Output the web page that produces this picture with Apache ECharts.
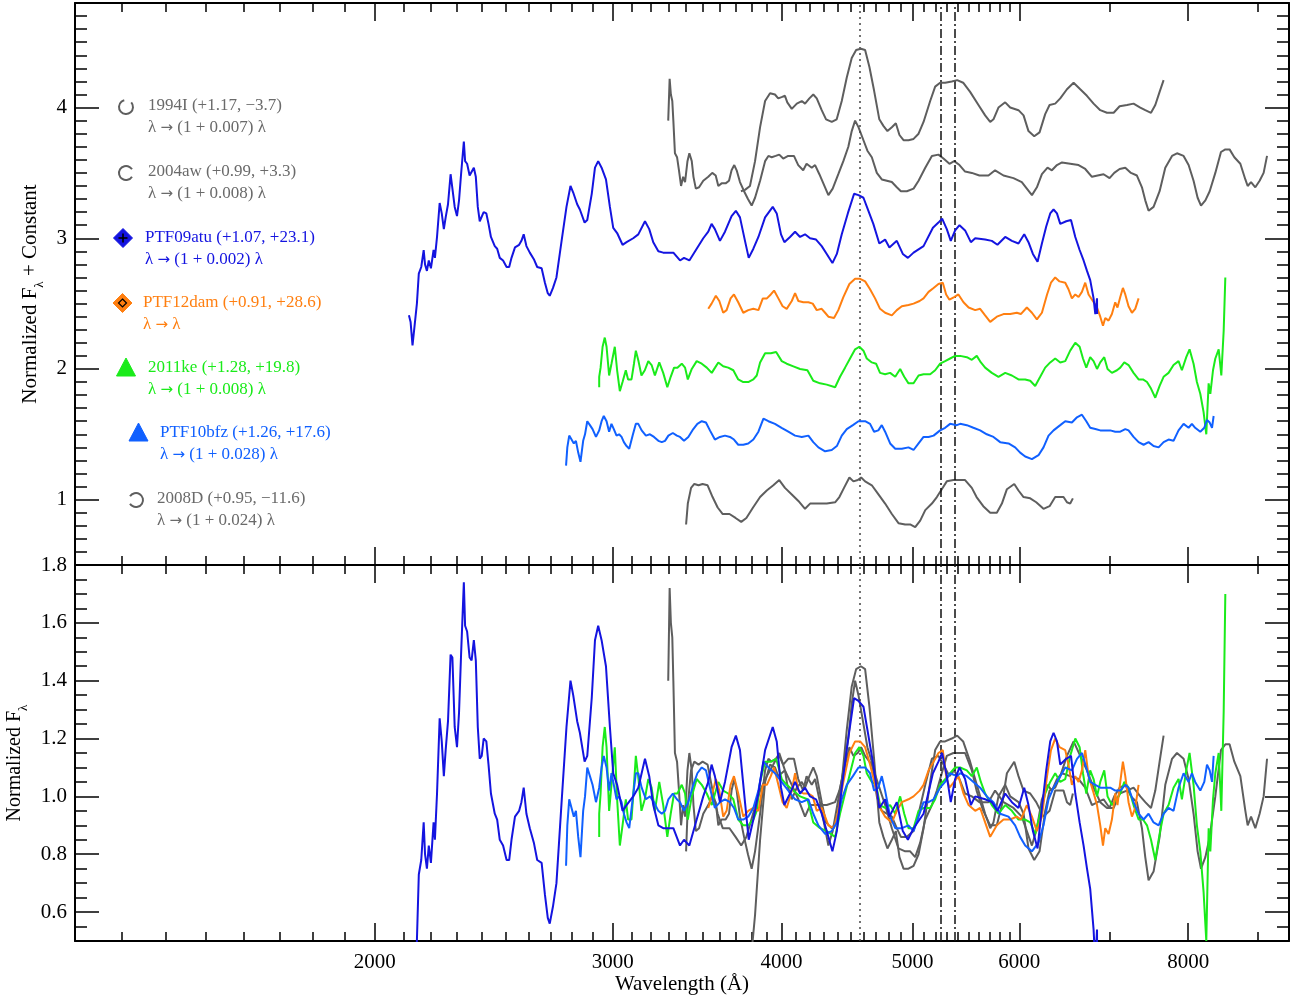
<!DOCTYPE html>
<html><head><meta charset="utf-8">
<script src="https://cdn.jsdelivr.net/npm/echarts@6.0.0/dist/echarts.min.js"></script>
<style>html,body{margin:0;padding:0;background:#fff}#c{width:1297px;height:999px}</style>
</head><body><div id="c"></div>
<script>
// ---------- DATA: [wavelength (Å), normalized flux] ----------
const sn1994I = [[3733,0.36],[3759,0.37],[3791,0.40],[3824,0.59],[3857,0.85],[3890,1.05],[3923,1.11],[3956,1.10],[3978,1.07],[4001,1.08],[4024,1.09],[4040,1.04],[4071,0.99],[4106,1.03],[4141,1.05],[4164,1.03],[4195,1.07],[4223,1.10],[4248,1.07],[4284,0.98],[4316,0.91],[4358,0.89],[4395,0.91],[4433,1.05],[4471,1.23],[4509,1.38],[4543,1.44],[4580,1.45],[4613,1.44],[4647,1.31],[4684,1.13],[4726,0.91],[4759,0.86],[4792,0.82],[4828,0.85],[4861,0.88],[4891,0.79],[4925,0.75],[4967,0.75],[5010,0.76],[5053,0.80],[5096,0.89],[5154,1.05],[5198,1.16],[5242,1.19],[5287,1.19],[5347,1.20],[5397,1.21],[5452,1.19],[5517,1.12],[5596,1.02],[5660,0.94],[5709,0.89],[5741,0.91],[5790,1.00],[5857,1.04],[5907,1.00],[5991,0.98],[6043,0.94],[6094,0.82],[6154,0.78],[6210,0.81],[6270,0.95],[6317,1.02],[6378,1.03],[6433,1.07],[6507,1.14],[6581,1.19],[6656,1.14],[6732,1.09],[6809,1.03],[6887,0.98],[6966,0.96],[7046,0.96],[7118,1.01],[7208,1.02],[7289,1.03],[7373,1.00],[7436,0.98],[7509,0.96],[7564,1.02],[7620,1.12],[7672,1.21]];
const sn2004aw = [[3298,1.40],[3306,1.72],[3313,1.60],[3321,1.55],[3327,1.40],[3336,1.15],[3348,1.12],[3359,1.02],[3371,0.90],[3383,0.97],[3394,0.93],[3408,1.09],[3419,1.15],[3433,1.09],[3443,0.97],[3457,0.88],[3476,0.89],[3501,0.94],[3531,0.97],[3555,1.00],[3576,0.98],[3592,0.90],[3612,0.92],[3637,0.92],[3658,0.94],[3674,1.02],[3691,1.06],[3706,1.02],[3727,0.93],[3753,0.86],[3778,0.80],[3802,0.75],[3824,0.81],[3857,0.94],[3890,1.09],[3912,1.13],[3934,1.12],[3961,1.13],[3985,1.14],[4012,1.11],[4046,1.13],[4086,1.13],[4116,1.06],[4151,1.02],[4175,1.07],[4212,1.04],[4236,1.06],[4267,0.99],[4296,0.92],[4333,0.83],[4365,0.88],[4407,0.99],[4445,1.09],[4483,1.20],[4509,1.32],[4535,1.40],[4561,1.35],[4600,1.25],[4631,1.17],[4666,1.12],[4706,1.00],[4746,0.95],[4787,0.94],[4828,0.93],[4869,0.89],[4903,0.86],[4953,0.86],[5010,0.88],[5053,0.94],[5111,1.04],[5169,1.13],[5227,1.14],[5272,1.11],[5326,1.07],[5369,1.09],[5418,1.06],[5470,1.01],[5533,1.00],[5605,0.98],[5692,0.98],[5757,1.02],[5840,0.98],[5940,0.96],[6025,0.93],[6077,0.88],[6130,0.83],[6182,0.89],[6235,0.99],[6295,1.04],[6342,1.02],[6397,1.06],[6452,1.08],[6543,1.07],[6637,1.06],[6713,1.03],[6790,0.97],[6856,0.98],[6926,0.99],[6997,0.96],[7053,1.00],[7118,1.03],[7187,1.04],[7257,1.00],[7331,0.98],[7394,0.89],[7436,0.79],[7478,0.71],[7542,0.74],[7620,0.86],[7694,1.04],[7783,1.13],[7849,1.15],[7938,1.13],[8006,1.06],[8074,0.94],[8130,0.81],[8177,0.75],[8238,0.79],[8299,0.86],[8379,1.00],[8460,1.16],[8523,1.18],[8585,1.18],[8655,1.12],[8744,1.07],[8819,0.95],[8854,0.90],[8905,0.93],[8970,0.89],[9036,0.94],[9098,1.00],[9151,1.13]];
const ptf09atu = [[2120,0.41],[2126,0.36],[2133,0.18],[2138,0.28],[2142,0.27],[2149,0.50],[2156,0.73],[2165,0.78],[2174,0.91],[2179,0.80],[2186,0.75],[2193,0.83],[2201,0.77],[2211,0.91],[2216,0.85],[2224,1.01],[2234,1.27],[2242,1.19],[2250,1.07],[2257,1.16],[2266,1.26],[2276,1.49],[2283,1.48],[2292,1.24],[2301,1.17],[2309,1.29],[2317,1.49],[2328,1.74],[2333,1.59],[2341,1.57],[2351,1.48],[2359,1.47],[2368,1.54],[2376,1.47],[2384,1.24],[2392,1.13],[2400,1.14],[2408,1.20],[2419,1.19],[2428,1.11],[2438,1.01],[2454,0.94],[2464,0.92],[2475,0.85],[2489,0.83],[2504,0.78],[2515,0.78],[2525,0.85],[2540,0.93],[2558,0.95],[2568,0.98],[2578,1.03],[2590,0.94],[2605,0.89],[2623,0.84],[2638,0.78],[2658,0.77],[2673,0.66],[2686,0.58],[2695,0.56],[2710,0.62],[2726,0.70],[2750,0.98],[2773,1.24],[2792,1.40],[2805,1.35],[2824,1.26],[2837,1.22],[2860,1.12],[2873,1.14],[2895,1.34],[2911,1.54],[2927,1.59],[2944,1.54],[2966,1.45],[2986,1.24],[3003,1.08],[3023,1.04],[3051,0.95],[3072,0.97],[3107,1.00],[3134,1.03],[3170,1.13],[3193,1.07],[3215,0.97],[3243,0.90],[3270,0.89],[3327,0.89],[3365,0.83],[3388,0.85],[3419,0.83],[3462,0.92],[3501,1.00],[3531,1.05],[3551,1.11],[3571,1.07],[3602,0.98],[3633,1.05],[3674,1.17],[3701,1.21],[3727,1.16],[3759,0.98],[3783,0.85],[3813,0.92],[3846,1.01],[3890,1.16],[3941,1.24],[3968,1.19],[3997,1.03],[4020,0.97],[4059,1.01],[4094,1.05],[4129,1.01],[4164,1.03],[4200,1.00],[4243,0.99],[4284,0.94],[4321,0.88],[4363,0.81],[4396,0.88],[4433,1.03],[4479,1.19],[4527,1.34],[4561,1.33],[4600,1.31],[4639,1.21],[4678,1.11],[4726,0.96],[4773,0.99],[4808,0.93],[4869,0.98],[4919,0.88],[4962,0.85],[5010,0.89],[5096,0.94],[5178,1.08],[5227,1.12],[5260,1.15],[5302,1.07],[5338,0.98],[5378,1.06],[5418,1.10],[5470,1.06],[5524,0.97],[5565,1.00],[5660,0.99],[5725,0.98],[5780,0.95],[5857,1.01],[5924,0.98],[5991,0.96],[6050,1.03],[6094,0.97],[6140,0.88],[6189,0.82],[6235,0.96],[6281,1.09],[6324,1.19],[6360,1.22],[6397,1.19],[6433,1.11],[6499,1.13],[6552,1.14],[6600,1.01],[6649,0.91],[6694,0.83],[6733,0.75],[6770,0.68],[6809,0.54],[6829,0.42],[6849,0.54],[6850,0.42]];
const ptf12dam = [[3531,0.96],[3551,1.00],[3577,1.06],[3598,1.02],[3622,0.93],[3643,0.95],[3668,1.04],[3689,1.07],[3716,1.01],[3748,0.93],[3780,0.95],[3813,0.96],[3846,0.95],[3875,1.04],[3902,1.04],[3928,1.07],[3950,1.10],[3979,1.04],[4008,0.98],[4036,0.96],[4071,1.02],[4094,1.08],[4117,1.02],[4152,1.01],[4188,1.01],[4219,1.00],[4248,0.95],[4284,0.96],[4309,0.93],[4333,0.90],[4375,0.89],[4407,0.95],[4445,1.05],[4491,1.15],[4535,1.19],[4574,1.19],[4613,1.17],[4652,1.11],[4692,1.04],[4732,0.96],[4773,0.93],[4828,0.91],[4869,0.95],[4911,0.98],[4967,0.99],[5010,1.00],[5062,1.02],[5096,1.04],[5140,1.09],[5184,1.12],[5227,1.15],[5266,1.16],[5296,1.07],[5326,1.03],[5369,1.05],[5408,1.07],[5455,1.01],[5503,0.97],[5565,0.95],[5612,0.96],[5660,0.91],[5709,0.86],[5774,0.90],[5840,0.92],[5907,0.92],[5974,0.93],[6015,0.92],[6077,0.97],[6130,0.93],[6182,0.88],[6235,0.93],[6290,1.07],[6332,1.16],[6378,1.20],[6425,1.17],[6488,1.16],[6524,1.11],[6562,1.04],[6600,1.07],[6637,1.05],[6675,1.09],[6713,1.16],[6751,1.07],[6801,1.02],[6849,0.97],[6887,0.90],[6919,0.83],[6946,0.89],[6985,0.87],[7025,0.92],[7065,1.01],[7092,0.97],[7126,1.05],[7158,1.12],[7187,1.07],[7227,0.98],[7269,0.93],[7310,0.96],[7352,1.04]];
const sn2011ke = [[2932,0.86],[2932,0.94],[2939,1.01],[2949,1.17],[2960,1.24],[2969,1.17],[2982,0.95],[2994,1.04],[3011,1.17],[3023,0.99],[3037,0.83],[3051,0.90],[3068,0.99],[3080,0.92],[3098,0.92],[3111,1.04],[3121,1.14],[3135,1.06],[3151,0.95],[3169,0.99],[3188,1.06],[3206,1.03],[3224,0.95],[3248,1.05],[3270,0.97],[3293,0.86],[3312,0.94],[3331,1.01],[3350,1.01],[3375,1.04],[3394,1.01],[3410,0.92],[3433,1.00],[3462,1.06],[3492,1.04],[3522,1.01],[3552,0.97],[3572,1.01],[3592,1.05],[3622,1.02],[3653,1.01],[3685,0.99],[3716,0.92],[3748,0.90],[3780,0.90],[3813,0.92],[3835,0.95],[3857,1.05],[3890,1.12],[3928,1.12],[3964,1.13],[4002,1.06],[4036,1.04],[4082,1.02],[4129,1.00],[4181,0.99],[4223,0.91],[4272,0.89],[4321,0.88],[4383,0.86],[4420,0.94],[4458,1.01],[4496,1.08],[4535,1.15],[4568,1.17],[4600,1.14],[4626,1.08],[4666,1.05],[4700,1.04],[4732,0.97],[4773,0.96],[4814,0.97],[4856,0.94],[4897,1.00],[4931,0.94],[4967,0.89],[5010,0.89],[5053,0.95],[5096,0.96],[5154,0.96],[5198,0.99],[5242,1.04],[5287,1.06],[5332,1.08],[5378,1.10],[5424,1.10],[5486,1.09],[5533,1.07],[5580,1.10],[5619,1.05],[5660,1.01],[5725,0.97],[5790,0.94],[5857,0.97],[5924,0.95],[5991,0.92],[6060,0.92],[6112,0.91],[6164,0.87],[6217,0.94],[6270,1.01],[6324,1.05],[6378,1.08],[6433,1.05],[6488,1.06],[6543,1.14],[6600,1.20],[6649,1.17],[6687,1.08],[6725,1.01],[6770,1.09],[6809,1.06],[6849,1.00],[6887,1.05],[6934,1.09],[6973,1.00],[7025,0.97],[7086,0.99],[7126,1.01],[7175,1.05],[7227,1.03],[7289,0.97],[7352,0.92],[7407,0.92],[7458,0.90],[7509,0.85],[7564,0.78],[7620,0.87],[7672,0.94],[7737,0.97],[7803,1.03],[7870,1.06],[7915,0.99],[7974,1.09],[8019,1.15],[8074,1.04],[8120,0.90],[8167,0.81],[8213,0.67],[8251,0.50],[8284,0.89],[8308,0.81],[8346,0.99],[8379,1.08],[8427,1.15],[8465,0.95],[8499,1.29],[8523,1.70]];
const ptf10bfz = [[2771,0.76],[2777,0.90],[2786,0.99],[2797,0.96],[2808,0.93],[2818,0.95],[2829,0.86],[2840,0.79],[2853,0.95],[2862,1.00],[2873,1.10],[2886,1.07],[2899,1.04],[2916,0.98],[2932,1.03],[2944,1.10],[2955,1.14],[2969,1.10],[2982,1.02],[2994,1.08],[3006,1.04],[3020,0.99],[3033,1.00],[3046,0.98],[3058,0.94],[3072,0.91],[3086,0.89],[3104,0.99],[3121,1.08],[3134,1.08],[3152,1.03],[3175,0.99],[3197,1.00],[3219,0.98],[3243,0.95],[3262,0.94],[3280,0.95],[3299,0.99],[3324,1.01],[3347,0.99],[3365,0.98],[3388,0.95],[3413,0.98],[3442,1.04],[3466,1.08],[3492,1.10],[3517,1.09],[3541,1.03],[3571,0.96],[3602,0.98],[3633,0.99],[3664,0.98],[3689,0.96],[3716,0.92],[3748,0.92],[3780,0.93],[3813,0.96],[3846,1.02],[3879,1.12],[3912,1.10],[3956,1.08],[4001,1.05],[4047,1.02],[4094,0.99],[4141,0.98],[4188,0.99],[4223,0.94],[4260,0.90],[4309,0.87],[4358,0.88],[4396,0.91],[4433,0.99],[4471,1.04],[4518,1.07],[4561,1.10],[4613,1.10],[4652,1.08],[4684,1.02],[4718,1.03],[4746,1.07],[4773,1.02],[4814,0.93],[4856,0.89],[4911,0.89],[4967,0.90],[5010,0.88],[5053,0.93],[5096,0.98],[5140,0.98],[5184,0.99],[5242,1.03],[5287,1.05],[5332,1.08],[5393,1.07],[5424,1.08],[5486,1.07],[5548,1.05],[5612,1.03],[5676,1.00],[5741,0.98],[5807,0.94],[5890,0.93],[5957,0.90],[6008,0.86],[6060,0.83],[6130,0.81],[6199,0.84],[6252,0.90],[6306,0.99],[6360,1.03],[6433,1.07],[6488,1.10],[6562,1.09],[6619,1.13],[6675,1.15],[6725,1.10],[6770,1.05],[6829,1.04],[6887,1.03],[6946,1.03],[7005,1.03],[7065,1.02],[7126,1.02],[7187,1.04],[7227,1.03],[7289,0.98],[7352,0.94],[7415,0.92],[7478,0.94],[7542,0.91],[7607,0.90],[7672,0.94],[7737,0.96],[7803,0.95],[7870,1.03],[7938,1.08],[8006,1.05],[8051,1.08],[8096,1.05],[8167,1.02],[8223,1.05],[8261,1.11],[8299,1.09],[8332,1.05],[8355,1.14]];
const sn2008D = [[3400,0.81],[3410,0.97],[3429,1.09],[3448,1.12],[3473,1.11],[3497,1.12],[3527,1.11],[3557,1.02],[3588,0.94],[3619,0.89],[3661,0.89],[3699,0.86],[3735,0.83],[3768,0.86],[3811,0.94],[3857,1.02],[3901,1.07],[3945,1.11],[3985,1.15],[4024,1.09],[4071,1.04],[4117,0.99],[4164,0.93],[4200,0.97],[4248,0.97],[4321,0.97],[4383,0.98],[4415,1.02],[4450,1.09],[4491,1.17],[4522,1.14],[4556,1.15],[4582,1.17],[4613,1.14],[4666,1.11],[4719,1.04],[4773,0.97],[4828,0.89],[4883,0.82],[4939,0.81],[4981,0.81],[5024,0.79],[5067,0.84],[5111,0.92],[5169,0.97],[5213,1.02],[5257,1.08],[5302,1.14],[5362,1.15],[5424,1.15],[5470,1.15],[5533,1.09],[5578,1.02],[5642,0.95],[5709,0.90],[5774,0.90],[5824,0.97],[5874,1.08],[5948,1.12],[5991,1.07],[6043,1.02],[6112,1.01],[6175,0.98],[6252,0.93],[6317,0.95],[6378,1.02],[6433,1.02],[6469,1.02],[6507,0.98],[6543,0.97],[6573,1.01]];

const names   = ['1994I', '2004aw', 'PTF09atu', 'PTF12dam', '2011ke', 'PTF10bfz', '2008D'];
const spectra = [sn1994I, sn2004aw, ptf09atu, ptf12dam, sn2011ke, ptf10bfz, sn2008D];
const offsets = [3.0, 2.5, 2.0, 1.5, 1.0, 0.5, 0.0];
const legendInfo  = ['1994I (+1.17, \u22123.7)', '2004aw (+0.99, +3.3)', 'PTF09atu (+1.07, +23.1)', 'PTF12dam (+0.91, +28.6)', '2011ke (+1.28, +19.8)', 'PTF10bfz (+1.26, +17.6)', '2008D (+0.95, \u221211.6)'];
const legendShift = ['\u03bb {a|\u2192} (1 + 0.007) \u03bb', '\u03bb {a|\u2192} (1 + 0.008) \u03bb', '\u03bb {a|\u2192} (1 + 0.002) \u03bb', '\u03bb {a|\u2192} \u03bb', '\u03bb {a|\u2192} (1 + 0.008) \u03bb', '\u03bb {a|\u2192} (1 + 0.028) \u03bb', '\u03bb {a|\u2192} (1 + 0.024) \u03bb'];
const refLines = [4567, 5251, 5412];   // Å
const xMajor = [2000, 3000, 4000, 5000, 6000, 8000];
const xMinor = [1300,1400,1500,1600,1700,1800,1900,2100,2200,2300,2400,2500,2600,2700,2800,2900,3100,3200,3300,3400,3500,3600,3700,3800,3900,4100,4200,4300,4400,4500,4600,4700,4800,4900,5100,5200,5300,5400,5500,5600,5700,5800,5900,7000,9000];
const yTopMajor = [1, 2, 3, 4];
const yTopMinor = [0.6,0.7,0.8,0.9,1.1,1.2,1.3,1.4,1.5,1.6,1.7,1.8,1.9,2.1,2.2,2.3,2.4,2.5,2.6,2.7,2.8,2.9,3.1,3.2,3.3,3.4,3.5,3.6,3.7,3.8,3.9,4.1,4.2,4.3,4.4,4.5,4.6,4.7];
const yBotMajor = [0.6, 0.8, 1.0, 1.2, 1.4, 1.6, 1.8];
const yBotMinor = [0.55,0.65,0.7,0.75,0.85,0.9,0.95,1.05,1.1,1.15,1.25,1.3,1.35,1.45,1.5,1.55,1.65,1.7,1.75];

// ---------- STYLE ----------
const GRAY = '#5e5e5e', BLUE = '#1414e0', ORANGE = '#ff7f10', GREEN = '#1aeb1a', BLUE2 = '#1060ff';
const colors = [GRAY, GRAY, BLUE, ORANGE, GREEN, BLUE2, GRAY];
const textColors = ['#6a6a6a', '#6a6a6a', BLUE, ORANGE, GREEN, BLUE2, '#6a6a6a'];
const FONT = 'Liberation Serif';
const lx = w => Math.log10(w);
const XMIN = lx(1200), XMAX = lx(9500);

function xAxisDef(grid, pos, major, labels, name) {
  return {
    type: 'value', gridIndex: grid, position: pos, min: XMIN, max: XMAX,
    axisLine: { show: major, onZero: false, lineStyle: { color: '#000', width: 2 } },
    splitLine: { show: false },
    axisTick: { show: true, inside: true, length: major ? 18 : 9,
      customValues: (major ? xMajor : xMinor).map(lx), lineStyle: { color: '#000', width: 1.5 } },
    axisLabel: { show: labels, customValues: xMajor.map(lx), margin: 11,
      formatter: v => String(Math.round(Math.pow(10, v))),
      fontFamily: FONT, fontSize: 21, color: '#000' },
    name: name || '', nameLocation: 'middle', nameGap: 31,
    nameTextStyle: { fontFamily: FONT, fontSize: 21, color: '#000' }
  };
}
function yAxisDef(grid, pos, major, labels, min, max, majVals, minVals, fmt, name, gap, fs) {
  return {
    type: 'value', gridIndex: grid, position: pos, min: min, max: max,
    axisLine: { show: major, onZero: false, lineStyle: { color: '#000', width: 2 } },
    splitLine: { show: false },
    axisTick: { show: true, inside: true, length: major ? 24 : 12,
      customValues: major ? majVals : minVals, lineStyle: { color: '#000', width: 1.5 } },
    axisLabel: { show: labels, customValues: majVals, margin: 8, formatter: fmt,
      fontFamily: FONT, fontSize: 21, color: '#000' },
    name: name || '', nameLocation: 'middle', nameRotate: 90, nameGap: gap || 20,
    nameTextStyle: { fontFamily: FONT, fontSize: fs || 20, color: '#000', padding: [0, 20, 0, 0],
      rich: { s: { fontFamily: FONT, fontSize: 13, color: '#000', verticalAlign: 'bottom', lineHeight: 30 } } }
  };
}

const xAxes = [
  xAxisDef(0, 'bottom', true, false), xAxisDef(0, 'bottom', false, false),
  xAxisDef(0, 'top', true, false),    xAxisDef(0, 'top', false, false),
  xAxisDef(1, 'bottom', true, true, 'Wavelength (\u00c5)'), xAxisDef(1, 'bottom', false, false),
  xAxisDef(1, 'top', true, false),    xAxisDef(1, 'top', false, false)
];
const fTop = v => String(Math.round(v));
const fBot = v => v.toFixed(1);
const yAxes = [
  yAxisDef(0, 'left', true, true, 0.5, 4.8, yTopMajor, yTopMinor, fTop, 'Normalized F{s|\u03bb} + Constant', 16, 21),
  yAxisDef(0, 'left', false, false, 0.5, 4.8, yTopMajor, yTopMinor, fTop),
  yAxisDef(0, 'right', true, false, 0.5, 4.8, yTopMajor, yTopMinor, fTop),
  yAxisDef(0, 'right', false, false, 0.5, 4.8, yTopMajor, yTopMinor, fTop),
  yAxisDef(1, 'left', true, true, 0.5, 1.8, yBotMajor, yBotMinor, fBot, 'Normalized F{s|\u03bb}', 34, 20),
  yAxisDef(1, 'left', false, false, 0.5, 1.8, yBotMajor, yBotMinor, fBot),
  yAxisDef(1, 'right', true, false, 0.5, 1.8, yBotMajor, yBotMinor, fBot),
  yAxisDef(1, 'right', false, false, 0.5, 1.8, yBotMajor, yBotMinor, fBot)
];

const refStyles = [
  { type: [2, 4], color: '#444', width: 1.5 },
  { type: [9, 3, 2, 3], color: '#111', width: 1.5 },
  { type: [9, 3, 2, 3], color: '#111', width: 1.5 }
];
function refMarkLine() {
  return { silent: true, symbol: ['none', 'none'], label: { show: false }, animation: false,
    data: refLines.map((w, i) => ({ xAxis: lx(w), lineStyle: refStyles[i] })) };
}

const drawOrder = [6, 1, 0, 4, 3, 5, 2];
const series = [];
[0, 1].forEach(panel => {
  drawOrder.forEach((k, j) => {
    const s = {
      type: 'line', name: names[k] + (panel ? ' (norm)' : ''),
      xAxisIndex: panel ? 4 : 0, yAxisIndex: panel ? 4 : 0,
      data: spectra[k].map(p => [lx(p[0]), panel ? p[1] : p[1] + offsets[k]]),
      showSymbol: false, symbol: 'none', clip: true, animation: false, silent: true,
      lineStyle: { color: colors[k], width: 2 }, itemStyle: { color: colors[k] }, z: 3 + j
    };
    if (j === 0) s.markLine = refMarkLine();
    series.push(s);
  });
});

// ---------- legend drawn as graphic ----------
const legSymX = [126, 126, 123, 122.5, 126, 138.5, 136];
const legTxtX = [148, 148, 145, 143, 148, 160, 157];
const legY    = [106, 172, 238, 303, 368, 433, 499];
const graphics = [];
function arcSym(cx, cy, gapCenter, color) {
  const g = 0.55;
  return { type: 'arc', shape: { cx: cx, cy: cy, r: 7, startAngle: gapCenter + g, endAngle: gapCenter + 2 * Math.PI - g, clockwise: true },
    style: { stroke: color, lineWidth: 2, fill: null } };
}
for (let i = 0; i < names.length; i++) {
  const cx = legSymX[i], cy = legY[i], c = colors[i];
  if (i === 0) graphics.push(arcSym(cx, cy + 1, -Math.PI / 2 + 0.3, c));
  if (i === 1) graphics.push(arcSym(cx, cy + 1, 0, c));
  if (i === 6) graphics.push(arcSym(cx, cy + 1, Math.PI, c));
  if (i === 2 || i === 3) {
    const h = 9.5;
    graphics.push({ type: 'polygon', shape: { points: [[cx, cy - h], [cx + h, cy], [cx, cy + h], [cx - h, cy]] }, style: { fill: c, stroke: c, lineWidth: 1 } });
    if (i === 2) {
      graphics.push({ type: 'line', shape: { x1: cx - 4.5, y1: cy, x2: cx + 4.5, y2: cy }, style: { stroke: '#000', lineWidth: 1.6 } });
      graphics.push({ type: 'line', shape: { x1: cx, y1: cy - 4.5, x2: cx, y2: cy + 4.5 }, style: { stroke: '#000', lineWidth: 1.6 } });
    } else {
      const q = 4;
      graphics.push({ type: 'polygon', shape: { points: [[cx, cy - q], [cx + q, cy], [cx, cy + q], [cx - q, cy]] }, style: { fill: null, stroke: '#000', lineWidth: 1.2 } });
    }
  }
  if (i === 4 || i === 5) {
    graphics.push({ type: 'polygon', shape: { points: [[cx, cy - 10], [cx + 9.5, cy + 8], [cx - 9.5, cy + 8]] }, style: { fill: c, stroke: c, lineWidth: 1 } });
  }
  graphics.push({ type: 'text', x: legTxtX[i], y: cy, style: { text: legendInfo[i], fill: textColors[i], font: '17px "' + FONT + '"', verticalAlign: 'middle', textVerticalAlign: 'middle' } });
  graphics.push({ type: 'text', x: legTxtX[i], y: cy + 22, style: { text: legendShift[i], fill: textColors[i], font: '17px "' + FONT + '"', verticalAlign: 'middle', textVerticalAlign: 'middle',
    rich: { a: { fontFamily: 'DejaVu Sans', fontSize: 15, fill: textColors[i] } } } });
}

const chart = echarts.init(document.getElementById('c'), null, { renderer: 'canvas' });
chart.setOption({
  backgroundColor: '#fff',
  animation: false,
  textStyle: { fontFamily: FONT },
  grid: [
    { left: 75, width: 1214, top: 3, height: 562, containLabel: false, outerBoundsMode: 'none' },
    { left: 75, width: 1214, top: 565, height: 376, containLabel: false, outerBoundsMode: 'none' }
  ],
  xAxis: xAxes,
  yAxis: yAxes,
  series: series,
  graphic: graphics
});
</script>
</body></html>
